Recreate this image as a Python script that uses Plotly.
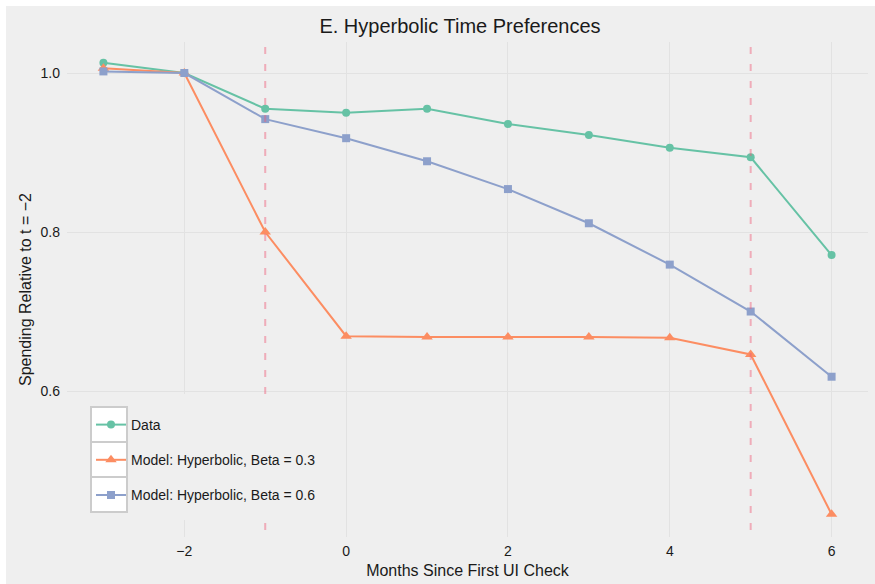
import plotly.graph_objects as go

months = [-3, -2, -1, 0, 1, 2, 3, 4, 5, 6]
data_vals = [1.013, 1.0, 0.955, 0.950, 0.955, 0.936, 0.922, 0.906, 0.894, 0.771]
beta03_vals = [1.006, 1.0, 0.800, 0.669, 0.668, 0.668, 0.668, 0.667, 0.646, 0.445]
beta06_vals = [1.002, 1.0, 0.942, 0.918, 0.889, 0.854, 0.811, 0.759, 0.700, 0.618]
vline_months = [-1, 5]
x_ticks = [-2, 0, 2, 4, 6]
y_ticks = [0.6, 0.8, 1.0]

W, H = 875, 584
L, R, T, B = 67, 7, 42, 47
PW, PH = W - L - R, H - T - B

def px_x(p):
    return (p - L) / PW

def px_y(p):
    return (H - B - p) / PH

BG = "#efefef"
FONT = "Liberation Sans, Arial, Helvetica, sans-serif"

fig = go.Figure()
series = [
    ("Data", data_vals, "#66c2a5", "circle", 8),
    ("Model: Hyperbolic, Beta = 0.3", beta03_vals, "#fc8d62", "triangle-up", 10),
    ("Model: Hyperbolic, Beta = 0.6", beta06_vals, "#8da0cb", "square", 8),
]
for i, (name, vals, col, sym, sz) in enumerate(series):
    fig.add_trace(go.Scatter(
        x=months, y=vals, name=name, mode="lines+markers",
        line=dict(color=col, width=2),
        marker=dict(color=col, symbol=sym, size=sz),
        legendgroup=f"g{i}",
    ))

shapes = [
    dict(type="rect", xref="paper", yref="paper", x0=px_x(6), x1=px_x(W + 5),
         y0=px_y(H + 5), y1=px_y(6), fillcolor=BG, line=dict(width=0), layer="below"),
]
for vx in vline_months:
    shapes.append(dict(type="line", xref="x", yref="paper", x0=vx, x1=vx,
                       y0=px_y(47), y1=px_y(538),
                       line=dict(color="rgba(240,90,120,0.45)", width=2, dash="7px,10px"),
                       layer="above"))
# legend background (covers gridlines)
shapes.append(dict(type="rect", xref="paper", yref="paper", x0=px_x(82), x1=px_x(325),
                   y0=px_y(520), y1=px_y(394), fillcolor=BG, line=dict(width=0), layer="above"))
for (t0, t1) in [(407, 442), (442, 477), (477, 512)]:
    shapes.append(dict(type="rect", xref="paper", yref="paper", x0=px_x(91), x1=px_x(127),
                       y0=px_y(t1), y1=px_y(t0), fillcolor="white",
                       line=dict(color="#cccccc", width=2), layer="above"))

fig.update_layout(
    width=W, height=H,
    margin=dict(l=L, r=R, t=T, b=B, autoexpand=False),
    paper_bgcolor="white", plot_bgcolor=BG,
    font=dict(family=FONT, color="#1a1a1a", size=14),
    title=dict(text="E. Hyperbolic Time Preferences", x=460 / W, xanchor="center",
               y=1 - 26 / H, yanchor="middle", font=dict(size=20, color="#1a1a1a")),
    xaxis=dict(range=[-3.45, 6.45], tickvals=x_ticks, showgrid=True, gridcolor="#e2e2e2",
               gridwidth=1, zeroline=False, showline=False, ticks="", automargin=False,
               title=dict(text="Months Since First UI Check", font=dict(size=16), standoff=6),
               tickfont=dict(size=14), ticklabelstandoff=4),
    yaxis=dict(range=[0.4164, 1.039], tickvals=y_ticks, tickformat=".1f", showgrid=True,
               gridcolor="#e2e2e2", gridwidth=1, zeroline=False, showline=False, ticks="",
               automargin=False,
               title=dict(text="Spending Relative to t = \u22122", font=dict(size=16), standoff=4),
               tickfont=dict(size=14), ticklabelstandoff=6),
    shapes=shapes,
    showlegend=True,
    legend=dict(x=px_x(91), xanchor="left", y=px_y(409), yanchor="top",
                bgcolor="rgba(0,0,0,0)", borderwidth=0, traceorder="grouped",
                tracegroupgap=14, font=dict(size=14)),
)

fig.write_html("out.html", config={"displayModeBar": False},
               post_script="document.body.style.margin='0';")
